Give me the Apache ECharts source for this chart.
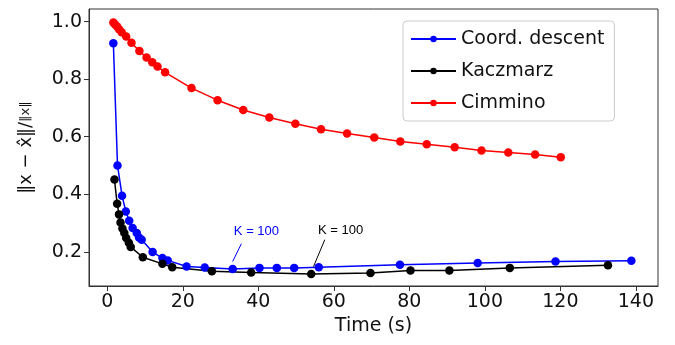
<!DOCTYPE html>
<html>
<head>
<meta charset="utf-8">
<script src="https://cdn.jsdelivr.net/npm/echarts@6/dist/echarts.min.js"></script>
<style>html,body{margin:0;padding:0;background:#fff}#c{width:675px;height:345px}</style>
</head>
<body>
<div id="c"></div>
<script>
// Data
const seriesNames = ['Coord. descent', 'Kaczmarz', 'Cimmino'];
const coordTime = [1.6, 2.7, 3.9, 4.9, 5.8, 6.7, 7.8, 8.4, 9.1, 12.0, 14.6, 16.0, 21.0, 25.8, 33.2, 40.3, 44.9, 49.5, 56.0, 77.5, 98.1, 118.7, 138.8];
const coordErr  = [0.925, 0.500, 0.395, 0.340, 0.308, 0.283, 0.265, 0.250, 0.242, 0.199, 0.178, 0.170, 0.149, 0.145, 0.140, 0.144, 0.144, 0.144, 0.146, 0.155, 0.161, 0.166, 0.169];
const kaczTime = [1.9, 2.6, 3.1, 3.5, 4.0, 4.5, 5.0, 5.7, 6.2, 9.4, 14.6, 17.2, 27.7, 38.1, 54.0, 69.7, 80.3, 90.6, 106.6, 132.6];
const kaczErr  = [0.451, 0.367, 0.330, 0.302, 0.281, 0.265, 0.248, 0.231, 0.217, 0.181, 0.158, 0.146, 0.132, 0.128, 0.123, 0.126, 0.135, 0.135, 0.144, 0.153];
const cimTime = [1.6, 2.0, 2.6, 3.1, 3.8, 5.0, 6.4, 8.5, 10.4, 11.9, 13.3, 15.3, 22.3, 29.2, 36.0, 42.9, 49.8, 56.6, 63.5, 70.7, 77.6, 84.6, 92.0, 99.1, 106.2, 113.3, 120.1];
const cimErr  = [0.997, 0.991, 0.983, 0.974, 0.963, 0.948, 0.927, 0.898, 0.875, 0.859, 0.844, 0.824, 0.769, 0.727, 0.693, 0.667, 0.645, 0.626, 0.611, 0.597, 0.583, 0.574, 0.563, 0.552, 0.545, 0.538, 0.529];
// Annotations: [textX, textY, arrowStartX, arrowStartY, arrowEndX, arrowEndY]
const annotText = 'K = 100';
const annotCoord = [39.5, 0.270, 35.5, 0.228, 33.2, 0.166];
const annotKacz  = [61.8, 0.273, 57.6, 0.242, 54.6, 0.148];
const xTicks = [0, 20, 40, 60, 80, 100, 120, 140];
const yTicks = [0.2, 0.4, 0.6, 0.8, 1.0];

const zip = (a, b) => a.map((v, i) => [v, b[i]]);
const FONT = 'DejaVu Sans';

function annot(a, color) {
  return {
    markPoint: {
      silent: true, animation: false,
      symbol: 'rect', symbolSize: [1, 1],
      itemStyle: { color: 'rgba(0,0,0,0)' },
      label: { show: true, position: 'inside', formatter: annotText, color: color, fontSize: 13, fontFamily: 'Liberation Sans' },
      data: [{ coord: [a[0], a[1]] }]
    },
    markLine: {
      silent: true, animation: false,
      symbol: ['none', 'arrow'], symbolSize: [0, 7],
      lineStyle: { color: color, width: 1, type: 'solid' },
      label: { show: false },
      emphasis: { disabled: true },
      data: [[{ coord: [a[2], a[3]] }, { coord: [a[4], a[5]] }]]
    }
  };
}

function mk(name, x, y, color, extra) {
  return Object.assign({
    name: name, type: 'line', data: zip(x, y),
    symbol: 'circle', symbolSize: 8.5, showSymbol: true,
    lineStyle: { color: color, width: 1.5 },
    itemStyle: { color: color },
    emphasis: { disabled: true },
    animation: false, z: 3
  }, extra || {});
}

const chart = echarts.init(document.getElementById('c'), null, { renderer: 'canvas' });
chart.setOption({
  backgroundColor: '#ffffff',
  animation: false,
  textStyle: { fontFamily: FONT },
  grid: { left: 89, top: 9, right: 17, bottom: 59, show: true, borderColor: '#333', borderWidth: 1, backgroundColor: 'transparent' },
  legend: {
    orient: 'vertical', left: 403, top: 21,
    padding: [7, 10, 7, 7],
    itemWidth: 45, itemHeight: 8, itemGap: 10,
    borderColor: '#cccccc', borderWidth: 1, borderRadius: 4,
    backgroundColor: '#ffffff',
    textStyle: { fontSize: 19, color: '#111', fontFamily: FONT, lineHeight: 22 },
    data: seriesNames
  },
  xAxis: {
    type: 'value', min: -4.85, max: 145.85, splitNumber: 7,
    name: 'Time (s)', nameLocation: 'middle', nameGap: 30,
    nameTextStyle: { fontSize: 19, color: '#111', fontFamily: FONT },
    axisLine: { show: true, onZero: false, lineStyle: { color: '#333' } },
    axisTick: { show: true, length: 5, inside: false, lineStyle: { color: '#333' },
      customValues: xTicks },
    axisLabel: { fontSize: 19, color: '#111', margin: 7, customValues: xTicks },
    splitLine: { show: false }
  },
  yAxis: {
    type: 'value', min: 0.081, max: 1.044,
    name: '{a|‖x − x̂‖/}{b|‖x‖}', nameLocation: 'middle', nameGap: 54, nameRotate: 90,
    nameTextStyle: { color: '#111', fontFamily: FONT,
      rich: { a: { fontSize: 18, fontFamily: FONT, color: '#111' }, b: { fontSize: 13, fontFamily: FONT, color: '#111' } } },
    axisLine: { show: true, onZero: false, lineStyle: { color: '#333' } },
    axisTick: { show: true, length: 5, lineStyle: { color: '#333' }, customValues: yTicks },
    axisLabel: { fontSize: 19, color: '#111', margin: 7, customValues: yTicks,
      formatter: v => v.toFixed(1) },
    splitLine: { show: false }
  },
  series: [
    mk(seriesNames[0], coordTime, coordErr, '#0000ff', annot(annotCoord, '#0000ff')),
    mk(seriesNames[1], kaczTime, kaczErr, '#000000', annot(annotKacz, '#000000')),
    mk(seriesNames[2], cimTime, cimErr, '#ff0000')
  ]
});
</script>
</body>
</html>
